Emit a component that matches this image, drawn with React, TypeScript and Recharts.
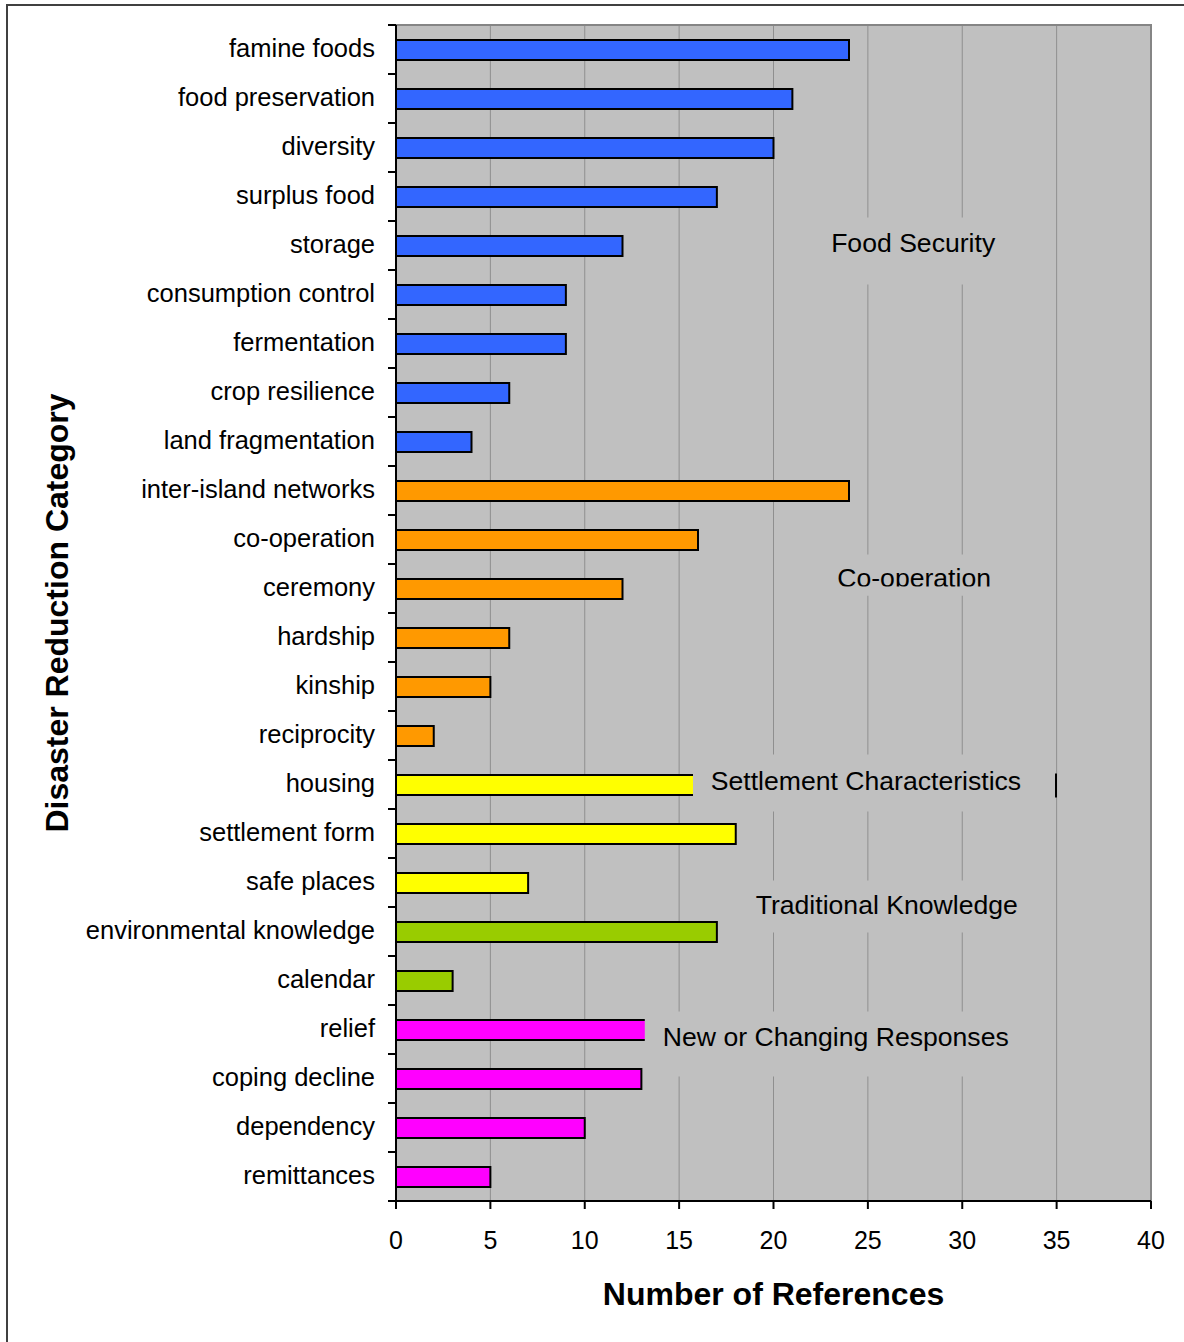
import React from "react";
import {
  Bar,
  BarChart,
  CartesianGrid,
  Cell,
  ReferenceArea,
  ReferenceDot,
  XAxis,
  YAxis,
} from "recharts";

const categories = [
  "famine foods",
  "food preservation",
  "diversity",
  "surplus food",
  "storage",
  "consumption control",
  "fermentation",
  "crop resilience",
  "land fragmentation",
  "inter-island networks",
  "co-operation",
  "ceremony",
  "hardship",
  "kinship",
  "reciprocity",
  "housing",
  "settlement form",
  "safe places",
  "environmental knowledge",
  "calendar",
  "relief",
  "coping decline",
  "dependency",
  "remittances",
];

const references = [24, 21, 20, 17, 12, 9, 9, 6, 4, 24, 16, 12, 6, 5, 2, 16, 18, 7, 17, 3, 14, 13, 10, 5];

const groups = [
  "food", "food", "food", "food", "food", "food", "food", "food", "food",
  "coop", "coop", "coop", "coop", "coop", "coop",
  "settle", "settle", "settle",
  "trad", "trad",
  "new", "new", "new", "new",
];

const groupColors: Record<string, string> = {
  food: "#3366ff",
  coop: "#ff9900",
  settle: "#ffff00",
  trad: "#99cc00",
  new: "#ff00ff",
};

const xTicks = [0, 5, 10, 15, 20, 25, 30, 35, 40];

// group labels: x in data units, anchored to a category row
const annotations = [
  { text: "Food Security", x: 27.4, at: "storage", dy: 6, box: [-98, 97, -28, 39] },
  { text: "Co-operation", x: 27.45, at: "ceremony", dy: -2, box: [-97, 97, -34, 7], clip: true },
  { text: "Settlement Characteristics", x: 24.9, at: "housing", dy: 5, box: [-173, 189, -30, 27], mark: true },
  { text: "Traditional Knowledge", x: 26.0, at: "environmental knowledge", dy: -18, box: [-137, 138, -51, 1] },
  { text: "New or Changing Responses", x: 23.3, at: "relief", dy: 16, box: [-191, 194, -18, 47] },
];

const data = categories.map((name, i) => ({ name, value: references[i], group: groups[i] }));

const FONT = "'Liberation Sans', Arial, sans-serif";
const PLOT_BG = "#c0c0c0";

function CategoryTick(props: any) {
  const { x, y, payload, index } = props;
  const half = payload?.offset ?? 24.5;
  const lx = x + 13;
  const last = index === categories.length - 1;
  return (
    <g>
      <line x1={lx} x2={lx + 8} y1={y - half} y2={y - half} stroke="#000" strokeWidth={2} />
      {last && <line x1={lx} x2={lx + 8} y1={y + half} y2={y + half} stroke="#000" strokeWidth={2} />}
      <text x={x} y={y} dy="0.31em" textAnchor="end" fontSize={25.5} fill="#000" fontFamily={FONT}>
        {payload.value}
      </text>
    </g>
  );
}

function makeAnnotation(a: (typeof annotations)[number]) {
  return (props: any) => {
    const { cx, cy } = props;
    const [l, r, t, b] = a.box;
    return (
      <g>
        <rect x={cx + l} y={cy + t} width={r - l} height={b - t} fill={PLOT_BG} />
        <text x={cx} y={cy + a.dy} textAnchor="middle" fontSize={26.6} fill="#000" fontFamily={FONT}>
          {a.text}
        </text>
        {a.clip && <rect x={cx + l} y={cy + a.dy} width={r - l} height={b - a.dy} fill={PLOT_BG} />}
        {a.mark && (
          <line x1={cx + r + 1} x2={cx + r + 1} y1={cy - 11} y2={cy + 13} stroke="#000" strokeWidth={2} />
        )}
      </g>
    );
  };
}

export default function App() {
  return (
    <div style={{ position: "absolute", left: 0, top: 0, width: 1184, height: 1342, background: "#fff" }}>
      <div
        style={{
          position: "absolute",
          left: 6,
          top: 4,
          width: 1200,
          height: 1400,
          borderLeft: "2px solid #404040",
          borderTop: "2px solid #404040",
        }}
      />
      <div style={{ position: "absolute", left: 0, top: 0 }}>
        <BarChart
          width={1184}
          height={1342}
          data={data}
          layout="vertical"
          margin={{ top: 25, right: 33, bottom: 0, left: 0 }}
          barSize={20}
        >
          <CartesianGrid horizontal={false} vertical stroke="#8f8f8f" fill={PLOT_BG} />
          <ReferenceArea x1={0} x2={40} fill="none" stroke="#858585" strokeWidth={2} ifOverflow="visible" />
          <XAxis
            type="number"
            domain={[0, 40]}
            ticks={xTicks}
            interval={0}
            height={141}
            tickSize={8}
            tickMargin={22}
            axisLine={{ stroke: "#000", strokeWidth: 2 }}
            tickLine={{ stroke: "#000", strokeWidth: 2 }}
            tick={{ fontSize: 25, fill: "#000", fontFamily: FONT }}
          />
          <YAxis
            type="category"
            dataKey="name"
            width={396}
            interval={0}
            tickSize={8}
            tickMargin={13}
            tickLine={false}
            axisLine={{ stroke: "#000", strokeWidth: 2 }}
            tick={<CategoryTick />}
          />
          <Bar dataKey="value" stroke="#000" strokeWidth={2} isAnimationActive={false}>
            {data.map((d) => (
              <Cell key={d.name} fill={groupColors[d.group]} />
            ))}
          </Bar>
          {annotations.map((a) => (
            <ReferenceDot key={a.text} x={a.x} y={a.at} r={1} ifOverflow="visible" shape={makeAnnotation(a)} />
          ))}
        </BarChart>
      </div>
      <div
        style={{
          position: "absolute",
          left: 396,
          width: 755,
          top: 1274,
          textAlign: "center",
          fontFamily: FONT,
          fontWeight: "bold",
          fontSize: 32,
          lineHeight: "40px",
          color: "#000",
        }}
      >
        Number of References
      </div>
      <div
        style={{
          position: "absolute",
          left: 57,
          top: 613,
          width: 0,
          height: 0,
        }}
      >
        <div
          style={{
            position: "absolute",
            left: -400,
            top: -20,
            width: 800,
            lineHeight: "40px",
            textAlign: "center",
            transform: "rotate(-90deg)",
            fontFamily: FONT,
            fontWeight: "bold",
            fontSize: 32,
            color: "#000",
            whiteSpace: "nowrap",
          }}
        >
          Disaster Reduction Category
        </div>
      </div>
    </div>
  );
}
